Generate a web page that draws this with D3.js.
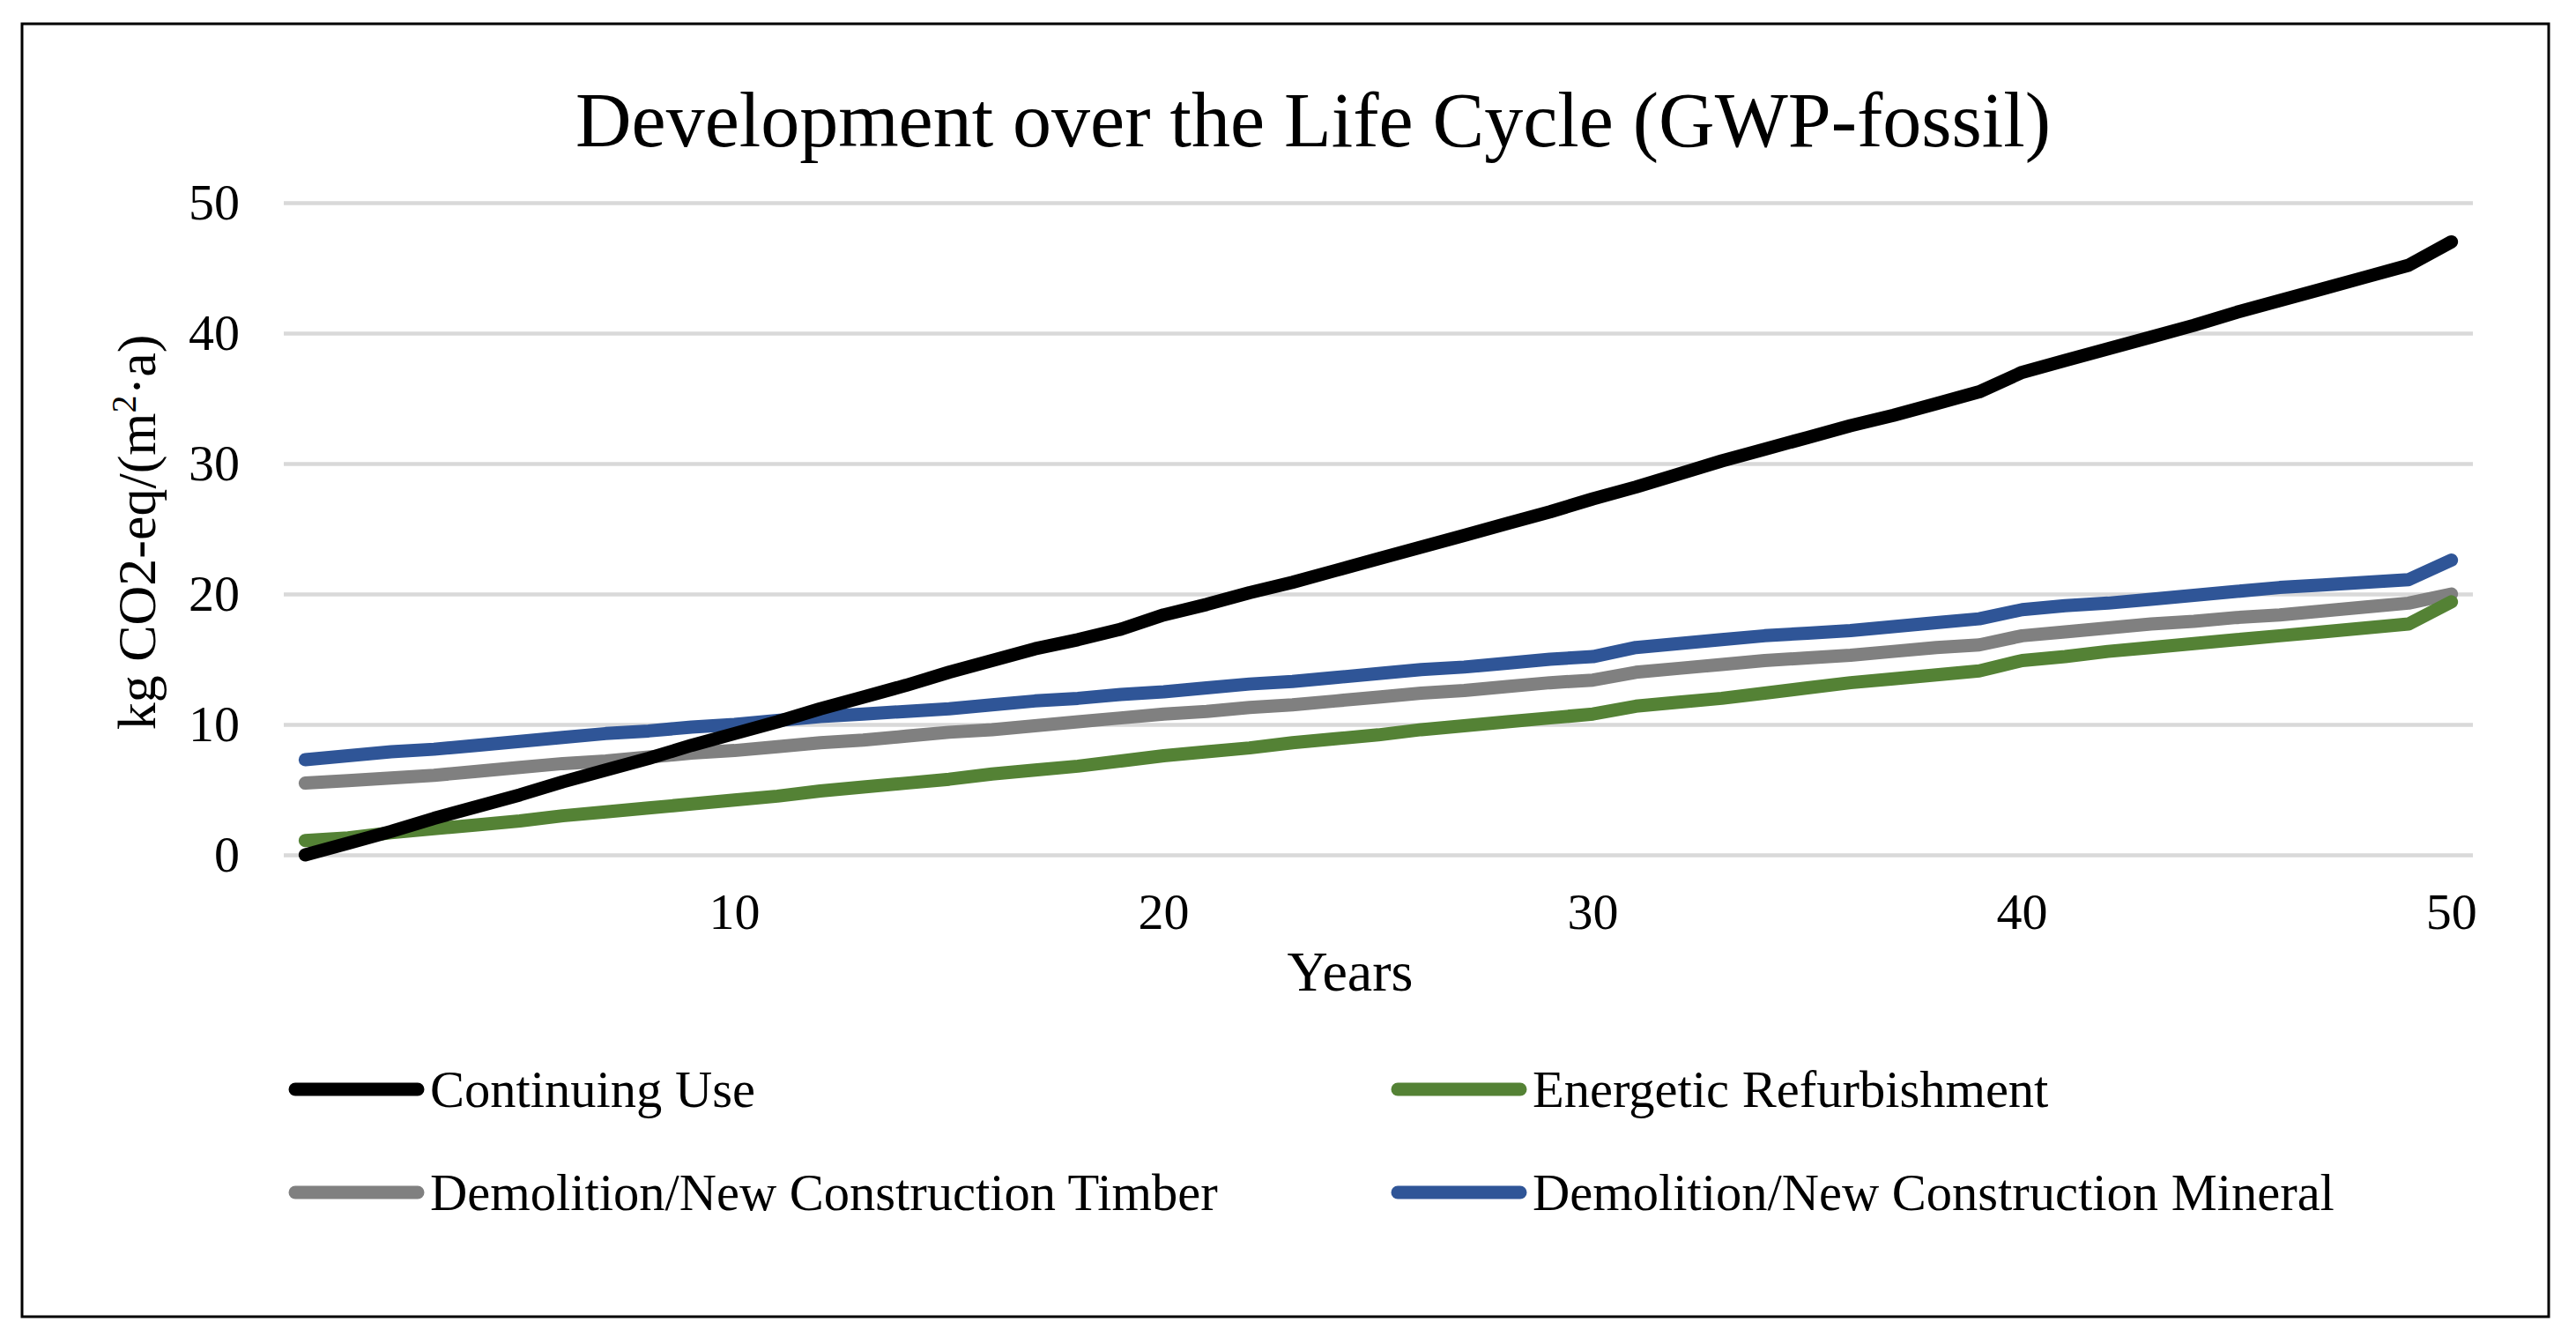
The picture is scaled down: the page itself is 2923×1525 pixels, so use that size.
<!DOCTYPE html>
<html>
<head>
<meta charset="utf-8">
<script src="https://cdn.jsdelivr.net/npm/d3@7"></script>
<style>
  html, body { margin: 0; padding: 0; background: #fff; }
  svg { display: block; }
  text { font-family: "Liberation Serif", "Times New Roman", serif; fill: #000; }
</style>
</head>
<body>
<div id="vis"></div>
<script>
// years on the category axis (0..50)
var years = d3.range(0, 51);
var xTickLabels = [10, 20, 30, 40, 50];
var yTickLabels = [0, 10, 20, 30, 40, 50];

var seriesNames = [
  "Continuing Use",
  "Energetic Refurbishment",
  "Demolition/New Construction Timber",
  "Demolition/New Construction Mineral"
];
var seriesColors = ["#000000", "#548235", "#808080", "#2f5597"];

// kg CO2-eq/(m2*a)
var continuingUse = [
  0, 0.9, 1.8, 2.8, 3.7, 4.6, 5.6, 6.5, 7.4, 8.4,
  9.3, 10.2, 11.2, 12.1, 13.0, 14.0, 14.9, 15.8, 16.5, 17.3,
  18.4, 19.2, 20.1, 20.9, 21.8, 22.7, 23.6, 24.5, 25.4, 26.3,
  27.3, 28.2, 29.2, 30.2, 31.1, 32.0, 32.9, 33.7, 34.6, 35.5,
  37.0, 37.9, 38.8, 39.7, 40.6, 41.6, 42.5, 43.4, 44.3, 45.2,
  47.0
];
var energeticRefurbishment = [
  1.1, 1.3, 1.7, 2.0, 2.3, 2.6, 3.0, 3.3, 3.6, 3.9,
  4.2, 4.5, 4.9, 5.2, 5.5, 5.8, 6.2, 6.5, 6.8, 7.2,
  7.6, 7.9, 8.2, 8.6, 8.9, 9.2, 9.6, 9.9, 10.2, 10.5,
  10.8, 11.4, 11.7, 12.0, 12.4, 12.8, 13.2, 13.5, 13.8, 14.1,
  14.9, 15.2, 15.6, 15.9, 16.2, 16.5, 16.8, 17.1, 17.4, 17.7,
  19.4
];
var timber = [
  5.5, 5.7, 5.9, 6.1, 6.4, 6.7, 7.0, 7.2, 7.5, 7.8,
  8.0, 8.3, 8.6, 8.8, 9.1, 9.4, 9.6, 9.9, 10.2, 10.5,
  10.8, 11.0, 11.3, 11.5, 11.8, 12.1, 12.4, 12.6, 12.9, 13.2,
  13.4, 14.0, 14.3, 14.6, 14.9, 15.1, 15.3, 15.6, 15.9, 16.1,
  16.8, 17.1, 17.4, 17.7, 17.9, 18.2, 18.4, 18.7, 19.0, 19.3,
  20.0
];
var mineral = [
  7.3, 7.6, 7.9, 8.1, 8.4, 8.7, 9.0, 9.3, 9.5, 9.8,
  10.0, 10.3, 10.6, 10.8, 11.0, 11.2, 11.5, 11.8, 12.0, 12.3,
  12.5, 12.8, 13.1, 13.3, 13.6, 13.9, 14.2, 14.4, 14.7, 15.0,
  15.2, 15.9, 16.2, 16.5, 16.8, 17.0, 17.2, 17.5, 17.8, 18.1,
  18.8, 19.1, 19.3, 19.6, 19.9, 20.2, 20.5, 20.7, 20.9, 21.1,
  22.6
];

var seriesValues = [continuingUse, energeticRefurbishment, timber, mineral];
// drawing order: blue first, black on top
var drawOrder = [3, 2, 1, 0];

var width = 2923, height = 1525;
var plot = { left: 322, right: 2806, top: 230, bottom: 970 };
var fontSize = 58;

var svg = d3.select("#vis").append("svg")
  .attr("width", width).attr("height", height);

svg.append("rect")
  .attr("width", width).attr("height", height).attr("fill", "#fff");

// outer frame
svg.append("rect")
  .attr("x", 25).attr("y", 27)
  .attr("width", 2867).attr("height", 1467)
  .attr("fill", "none").attr("stroke", "#000").attr("stroke-width", 3);

var x = d3.scaleBand().domain(years).range([plot.left, plot.right]).padding(0);
var y = d3.scaleLinear().domain([0, 50]).range([plot.bottom, plot.top]);
var xc = function(d){ return x(d) + x.bandwidth() / 2; };

// y axis with gridlines
var yAxis = svg.append("g")
  .attr("transform", "translate(" + plot.left + ",0)")
  .call(d3.axisLeft(y).tickValues(yTickLabels)
    .tickSizeInner(-(plot.right - plot.left)).tickSizeOuter(0).tickPadding(50));
yAxis.select(".domain").remove();
yAxis.selectAll(".tick line").attr("stroke", "#d9d9d9").attr("stroke-width", 4.5);
yAxis.selectAll(".tick text")
  .style("font-family", "Liberation Serif, Times New Roman, serif")
  .attr("font-size", fontSize).attr("fill", "#000");

// x axis labels
var xAxis = svg.append("g")
  .attr("transform", "translate(0," + plot.bottom + ")")
  .call(d3.axisBottom(x).tickValues(xTickLabels).tickSize(0).tickPadding(43));
xAxis.select(".domain").remove();
xAxis.selectAll(".tick text")
  .style("font-family", "Liberation Serif, Times New Roman, serif")
  .attr("font-size", fontSize).attr("fill", "#000");

// lines
var line = d3.line()
  .x(function(d, i){ return xc(years[i]); })
  .y(function(d){ return y(d); });

drawOrder.forEach(function(s){
  svg.append("path")
    .datum(seriesValues[s])
    .attr("d", line)
    .attr("fill", "none")
    .attr("stroke", seriesColors[s])
    .attr("stroke-width", 15)
    .attr("stroke-linejoin", "round")
    .attr("stroke-linecap", "round");
});

// title
svg.append("text")
  .attr("x", 1490).attr("y", 166)
  .attr("text-anchor", "middle")
  .attr("font-size", 88)
  .text("Development over the Life Cycle (GWP-fossil)");

// axis titles
svg.append("text")
  .attr("x", 1532).attr("y", 1124)
  .attr("text-anchor", "middle")
  .attr("font-size", 64)
  .text("Years");

var yTitle = svg.append("text")
  .attr("transform", "translate(176,604) rotate(-90)")
  .attr("text-anchor", "middle")
  .attr("font-size", 62);
yTitle.append("tspan").text("kg CO2-eq/(m");
yTitle.append("tspan").attr("font-size", 40).attr("dy", -22).text("2");
yTitle.append("tspan").attr("dy", 22).text("·a)");

// legend
var legendPos = [
  { x: 330, y: 1236 },
  { x: 1581, y: 1236 },
  { x: 330, y: 1353 },
  { x: 1581, y: 1353 }
];
var legend = svg.selectAll(".legend-item")
  .data(seriesNames)
  .enter().append("g")
  .attr("class", "legend-item")
  .attr("transform", function(d, i){
    return "translate(" + legendPos[i].x + "," + legendPos[i].y + ")";
  });
legend.append("line")
  .attr("x1", 5).attr("x2", 144)
  .attr("y1", 0).attr("y2", 0)
  .attr("stroke", function(d, i){ return seriesColors[i]; })
  .attr("stroke-width", 15)
  .attr("stroke-linecap", "round");
legend.append("text")
  .attr("x", 158).attr("y", 20)
  .attr("font-size", 58.5)
  .text(function(d){ return d; });
</script>
</body>
</html>
